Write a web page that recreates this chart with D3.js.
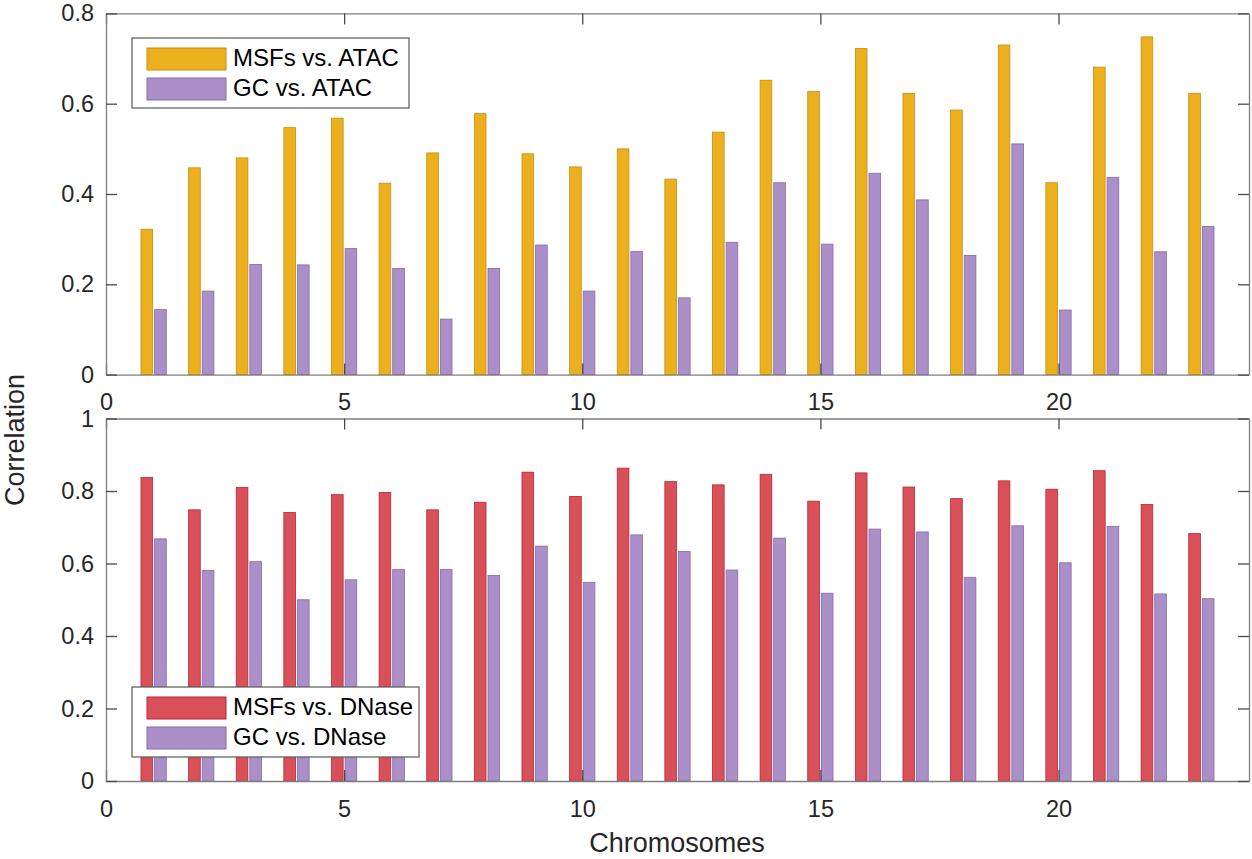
<!DOCTYPE html>
<html>
<head>
<meta charset="utf-8">
<script src="https://cdn.jsdelivr.net/npm/d3@7"></script>
<style>
  body { margin: 0; background: #fff; }
  svg { display: block; font-family: "Liberation Sans", Arial, sans-serif; }
  .tick text { fill: #262626; font-size: 23.5px; }
  .domain { stroke: #7f7f7f; stroke-width: 1.3; }
  .tick line { stroke: #4a4a4a; stroke-width: 1.3; }
</style>
</head>
<body>
<div id="chart"></div>
<script>
// chromosome numbers on the x axis
const chromosomes = [1, 2, 3, 4, 5, 6, 7, 8, 9, 10, 11, 12, 13, 14, 15, 16, 17, 18, 19, 20, 21, 22, 23];

// top panel: correlation with ATAC
const msfAtac = [0.322, 0.458, 0.480, 0.547, 0.568, 0.424, 0.491, 0.578, 0.489, 0.460, 0.500, 0.433,
  0.537, 0.652, 0.627, 0.722, 0.623, 0.586, 0.730, 0.425, 0.681, 0.748, 0.623];
const gcAtac = [0.144, 0.185, 0.244, 0.243, 0.279, 0.235, 0.123, 0.235, 0.287, 0.185, 0.273, 0.170,
  0.293, 0.425, 0.289, 0.446, 0.387, 0.264, 0.511, 0.143, 0.437, 0.272, 0.328];

// bottom panel: correlation with DNase
const msfDnase = [0.837, 0.748, 0.810, 0.741, 0.790, 0.796, 0.748, 0.769, 0.852, 0.785, 0.863, 0.826,
  0.817, 0.846, 0.772, 0.850, 0.811, 0.779, 0.828, 0.805, 0.856, 0.763, 0.683];
const gcDnase = [0.668, 0.581, 0.605, 0.500, 0.555, 0.584, 0.584, 0.567, 0.648, 0.548, 0.679, 0.633,
  0.582, 0.670, 0.518, 0.695, 0.687, 0.562, 0.704, 0.602, 0.702, 0.516, 0.503];

const xTicks = [0, 5, 10, 15, 20];
const yTicksTop = [0, 0.2, 0.4, 0.6, 0.8];
const yTicksBottom = [0, 0.2, 0.4, 0.6, 0.8, 1];

const w = 1252;
const h = 859;

const svg = d3.select("#chart")
  .append("svg")
  .attr("width", w)
  .attr("height", h);

const x = d3.scaleLinear().domain([0, 24]).range([106, 1249]);
const barW = 0.245; // in chromosome units
const offsets = [-0.143, 0.143];

function drawPanel(cfg) {
  const y = d3.scaleLinear().domain(cfg.domain).range(cfg.range);
  const g = svg.append("g");

  // the two series side by side around each chromosome
  cfg.series.forEach((s, si) => {
    g.append("g")
      .selectAll("rect")
      .data(s.values)
      .enter()
      .append("rect")
      .attr("x", (d, i) => x(chromosomes[i] + offsets[si] - barW / 2))
      .attr("y", (d) => y(d))
      .attr("width", x(barW) - x(0))
      .attr("height", (d) => y(0) - y(d))
      .attr("fill", s.fill)
      .attr("stroke", s.stroke)
      .attr("stroke-width", 0.8);
  });

  // box with inward ticks, MATLAB style
  g.append("g")
    .attr("transform", `translate(0,${y.range()[0]})`)
    .call(d3.axisBottom(x).tickValues(xTicks).tickFormat(d3.format("d"))
      .tickSize(-11).tickSizeOuter(0).tickPadding(19));
  g.append("g")
    .attr("transform", `translate(0,${y.range()[1]})`)
    .call(d3.axisTop(x).tickValues(xTicks).tickFormat("").tickSize(-11).tickSizeOuter(0));
  g.append("g")
    .attr("transform", `translate(${x.range()[0]},0)`)
    .call(d3.axisLeft(y).tickValues(cfg.yTicks).tickFormat((d) => (d === 0 || d === 1 ? d : d3.format(".1f")(d)))
      .tickSize(-11).tickSizeOuter(0).tickPadding(12));
  g.append("g")
    .attr("transform", `translate(${x.range()[1]},0)`)
    .call(d3.axisRight(y).tickValues(cfg.yTicks).tickFormat("").tickSize(-11).tickSizeOuter(0));

  // legend
  const lg = g.append("g").attr("transform", `translate(${cfg.legend[0]},${cfg.legend[1]})`);
  lg.append("rect")
    .attr("width", cfg.legendW)
    .attr("height", 70)
    .attr("fill", "#fff")
    .attr("stroke", "#595959")
    .attr("stroke-width", 1.2);
  cfg.series.forEach((s, i) => {
    lg.append("rect")
      .attr("x", 15)
      .attr("y", 10 + i * 30)
      .attr("width", 79)
      .attr("height", 22)
      .attr("fill", s.fill)
      .attr("stroke", s.stroke)
      .attr("stroke-width", 1);
    lg.append("text")
      .attr("x", 101)
      .attr("y", 28 + i * 30)
      .attr("font-size", 24)
      .attr("fill", "#000")
      .text(s.name);
  });
}

drawPanel({
  domain: [0, 0.8],
  range: [374.6, 13.4],
  yTicks: yTicksTop,
  legend: [132, 38],
  legendW: 277,
  series: [
    { name: "MSFs vs. ATAC", values: msfAtac, fill: "#ecb01f", stroke: "#c48f12" },
    { name: "GC vs. ATAC", values: gcAtac, fill: "#aa8fc8", stroke: "#876aa8" },
  ],
});

drawPanel({
  domain: [0, 1],
  range: [781, 418.5],
  yTicks: yTicksBottom,
  legend: [132, 687],
  legendW: 287,
  series: [
    { name: "MSFs vs. DNase", values: msfDnase, fill: "#da5058", stroke: "#b52838" },
    { name: "GC vs. DNase", values: gcDnase, fill: "#aa8fc8", stroke: "#876aa8" },
  ],
});

// axis titles
svg.append("text")
  .attr("x", 677)
  .attr("y", 852)
  .attr("text-anchor", "middle")
  .attr("font-size", 27)
  .attr("fill", "#262626")
  .text("Chromosomes");

svg.append("text")
  .attr("transform", "translate(24,440) rotate(-90)")
  .attr("text-anchor", "middle")
  .attr("font-size", 27)
  .attr("fill", "#262626")
  .text("Correlation");
</script>
</body>
</html>
